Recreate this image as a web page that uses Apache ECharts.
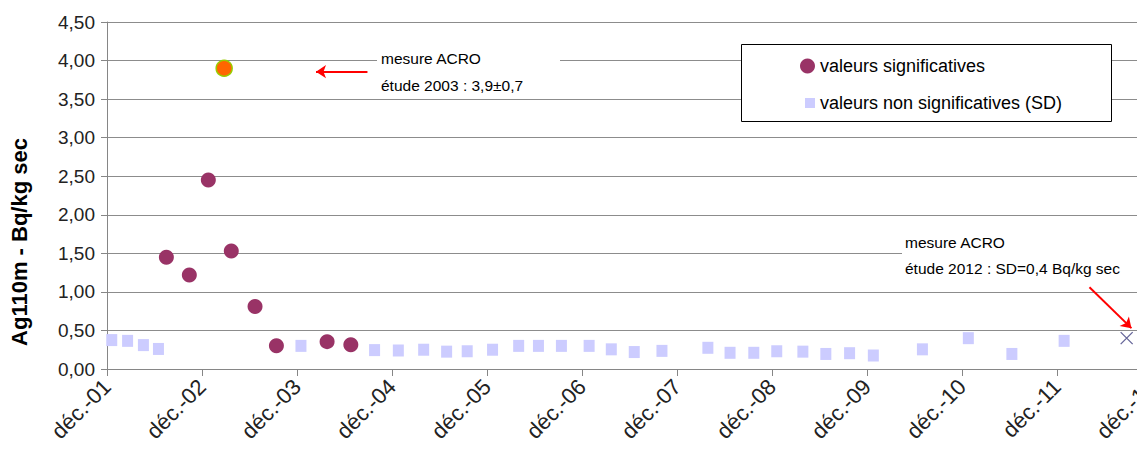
<!DOCTYPE html>
<html><head><meta charset="utf-8">
<script src="https://cdn.jsdelivr.net/npm/echarts@6/dist/echarts.min.js"></script>
<style>html,body{margin:0;padding:0;background:#fff}#c{width:1137px;height:450px}</style>
</head><body><div id="c"></div>
<script>
// x = months since déc.-01
const yearLabels = ['01','02','03','04','05','06','07','08','09','10','11','12'];
const sigMonths = [7.5, 10.4, 12.8, 15.7, 18.7, 21.4, 27.8, 30.8];
const sigValues = [1.45, 1.22, 2.45, 1.53, 0.81, 0.30, 0.355, 0.315];
const nsMonths = [0.6, 2.6, 4.6, 6.5, 24.5, 33.8, 36.8, 40.0, 42.9, 45.5, 48.7, 52.0, 54.5, 57.4, 60.9, 63.7, 66.6, 70.1, 75.9, 78.7, 81.7, 84.6, 87.9, 90.8, 93.8, 96.8, 103.0, 108.8, 114.3, 120.9];
const nsValues = [0.375, 0.365, 0.31, 0.26, 0.30, 0.245, 0.24, 0.25, 0.225, 0.23, 0.25, 0.30, 0.30, 0.30, 0.30, 0.255, 0.22, 0.235, 0.275, 0.21, 0.21, 0.23, 0.225, 0.195, 0.205, 0.175, 0.255, 0.40, 0.195, 0.365];
const acro2003 = [[14.8, 3.90]];
const acro2012 = [[128.8, 0.40]];
const arrow2003 = [[32.9, 3.856], [26.4, 3.856]];
const arrow2012 = [[124.1, 1.06], [129.4, 0.53]];

const FONT = "'Liberation Sans', Arial, sans-serif";
const sig = sigMonths.map((m, i) => [m, sigValues[i]]);
const ns = nsMonths.map((m, i) => [m, nsValues[i]]);
const chart = echarts.init(document.getElementById('c'), null, {renderer: 'svg'});
chart.setOption({
  animation: false,
  textStyle: {fontFamily: FONT},
  grid: {left: 107, right: -15, top: 22, bottom: 81, containLabel: false, outerBoundsMode: 'none'},
  xAxis: {
    type: 'value', min: 0, max: 132, interval: 12,
    axisLine: {show: true, lineStyle: {color: '#868686'}},
    axisTick: {show: true, length: 7, lineStyle: {color: '#868686'}},
    splitLine: {show: false},
    axisLabel: {rotate: 45, fontSize: 22, color: '#222', margin: 14, fontFamily: FONT,
      formatter: v => 'déc.-' + yearLabels[Math.round(v / 12)]}
  },
  yAxis: {
    type: 'value', min: 0, max: 4.5, interval: 0.5,
    axisLine: {show: true, lineStyle: {color: '#868686'}},
    axisTick: {show: true, length: 6, lineStyle: {color: '#868686'}},
    splitLine: {show: true, lineStyle: {color: '#8c8c8c', width: 1}},
    axisLabel: {fontSize: 19, color: '#222', margin: 12, fontFamily: FONT,
      formatter: v => v.toFixed(2).replace('.', ',')}
  },
  legend: [
    {data: [{name: 'valeurs significatives', icon: 'circle'}], left: 795, top: 52,
     itemWidth: 15, itemHeight: 15, itemGap: 5, z: 10,
     textStyle: {fontSize: 18, color: '#000', fontFamily: FONT, lineHeight: 18}},
    {data: [{name: 'valeurs non significatives (SD)', icon: 'rect'}], left: 800, top: 89,
     itemWidth: 10, itemHeight: 10, z: 10,
     textStyle: {fontSize: 18, color: '#000', fontFamily: FONT, lineHeight: 18}}
  ],
  graphic: [
    {type: 'rect', z: 3, shape: {x: 741.5, y: 44.5, width: 370, height: 77},
     style: {fill: '#fff', stroke: '#000', lineWidth: 1}},
    {type: 'rect', z: 3, shape: {x: 377, y: 42, width: 183, height: 54}, style: {fill: '#fff'}},
    {type: 'text', z: 4, x: 381, y: 58, style: {text: 'mesure ACRO', font: "15.5px " + FONT, fill: '#000', textVerticalAlign: 'middle'}},
    {type: 'text', z: 4, x: 381, y: 85, style: {text: 'étude 2003 : 3,9±0,7', font: "15.5px " + FONT, fill: '#000', textVerticalAlign: 'middle'}},
    {type: 'rect', z: 3, shape: {x: 902, y: 232, width: 240, height: 50}, style: {fill: '#fff'}},
    {type: 'text', z: 4, x: 905, y: 242, style: {text: 'mesure ACRO', font: "15.5px " + FONT, fill: '#000', textVerticalAlign: 'middle'}},
    {type: 'text', z: 4, x: 905, y: 268, style: {text: 'étude 2012 : SD=0,4 Bq/kg sec', font: "15.5px " + FONT, fill: '#000', textVerticalAlign: 'middle'}},
    {type: 'text', z: 4, x: 19, y: 242, rotation: Math.PI / 2,
     style: {text: 'Ag110m - Bq/kg sec', font: "bold 22px " + FONT, fill: '#000', textAlign: 'center', textVerticalAlign: 'middle'}}
  ],
  series: [
    {name: 'valeurs non significatives (SD)', type: 'scatter', data: ns, symbol: 'rect', symbolSize: [11, 12],
     itemStyle: {color: '#ccccff', opacity: 1}, z: 5},
    {name: 'valeurs significatives', type: 'scatter', data: sig, symbol: 'circle', symbolSize: 15,
     itemStyle: {color: '#993366', opacity: 1}, z: 6},
    {name: 'ACRO 2003', type: 'scatter', data: acro2003, symbol: 'circle', symbolSize: 16,
     itemStyle: {color: '#ff6600', borderColor: '#99cc00', borderWidth: 1.5, opacity: 1}, z: 7},
    {name: 'ACRO 2012', type: 'scatter', data: acro2012, symbol: 'path://M0,0L10,10M10,0L0,10', symbolSize: 12,
     itemStyle: {color: 'none', borderColor: '#666699', borderWidth: 1.3, opacity: 1}, z: 7,
     markLine: {silent: true, symbol: ['none', 'arrow'], symbolSize: 10, label: {show: false},
       lineStyle: {type: 'solid', color: '#ff0000', width: 2},
       data: [[{coord: arrow2003[0]}, {coord: arrow2003[1]}], [{coord: arrow2012[0]}, {coord: arrow2012[1]}]]}}
  ]
});
</script></body></html>
